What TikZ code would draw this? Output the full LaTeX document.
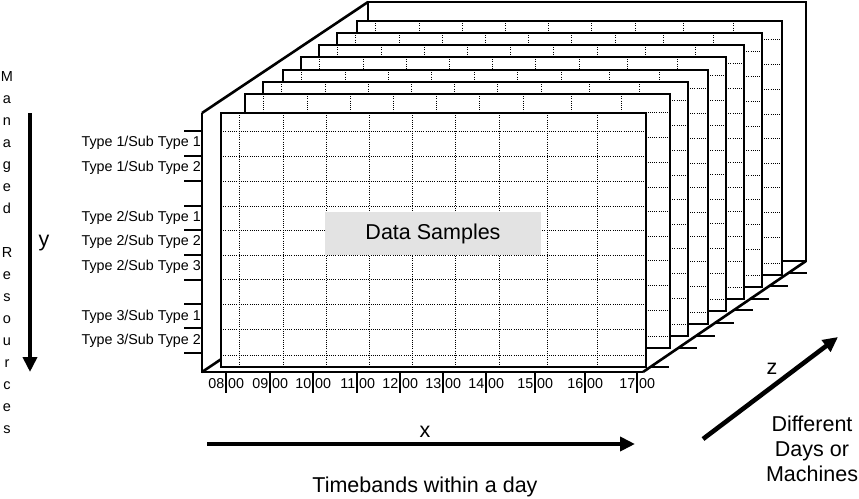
\documentclass[tikz,border=0pt]{standalone}
\usepackage{fontspec}
\setmainfont{Liberation Sans}
\usetikzlibrary{arrows.meta}

\begin{document}
\begin{tikzpicture}[x=1pt,y=-1pt,
		sheet/.style={line width=1.3pt},
		griddot/.style={line width=0.9pt,dash pattern=on 1pt off 1.2pt},
		frameline/.style={line width=2.6pt},
		ztick/.style={line width=1.8pt},
		axisarrow/.style={line width=4.6pt,-{Triangle[length=15pt,width=14pt]}},
		ticklbl/.style={inner sep=0pt,font=\fontsize{14.3}{16}\selectfont},
		biglbl/.style={inner sep=0pt,font=\fontsize{21.5}{25}\selectfont,align=center}]
					\definecolor{samplegrey}{HTML}{E3E3E3}
					\useasboundingbox (0,0) rectangle (859,498);
					\draw[frameline] (368,2) rectangle (806,261);
					\draw[frameline] (202,113) -- (368,2);
					\draw[frameline] (202,372) -- (368,261);
					\foreach \sx/\sy in {357/21,337/33,319/45,301/57,283/70,263/82,245/94,221/113} {
						\begin{scope}[shift={(\sx,\sy)}]
							\fill[white] (0,0) rectangle (425,254);
							\foreach \gx in {18,62,105,148,191,234,278,326,376}
								\draw[griddot] (\gx,0) -- (\gx,254);
							\foreach \gy in {18,43,68,93,117,142,166,191,216,242}
								\draw[griddot] (0,\gy) -- (425,\gy);
							\draw[sheet] (0,0) rectangle (425,254);
						\end{scope}
					}
					\draw[frameline] (202,113) -- (202,372) -- (643,372);
					\draw[frameline] (643,372) -- (806,261);
					\foreach \zb in {367,348,336,323,310,299,286,273}
						\draw[ztick] ({643+(372-\zb)*1.4685},\zb) -- ++(19,0);
					\foreach \yt in {131,156,181,206,230,255,280,304,328,353}
						\draw[line width=1.6pt] (184,\yt) -- (202,\yt);
					\foreach \xt/\hh in {226/08,270/09,313/10,357/11,400/12,443/13,486/14,535/15,585/16,637/17} {
						\draw[line width=2.4pt] (\xt,372) -- (\xt,393);
						\node[ticklbl,anchor=east] (h\hh) at (\xt-1.5,384) {\hh};
						\node[ticklbl,anchor=west] (m\hh) at (\xt+2,384) {00};
					}
					\node[ticklbl,anchor=east] (t11) at (201,143) {Type 1/Sub Type 1};
					\node[ticklbl,anchor=east] (t12) at (201,168) {Type 1/Sub Type 2};
					\node[ticklbl,anchor=east] (t21) at (201,218) {Type 2/Sub Type 1};
					\node[ticklbl,anchor=east] (t22) at (201,242) {Type 2/Sub Type 2};
					\node[ticklbl,anchor=east] (t23) at (201,267) {Type 2/Sub Type 3};
					\node[ticklbl,anchor=east] (t31) at (201,317) {Type 3/Sub Type 1};
					\node[ticklbl,anchor=east] (t32) at (201,341) {Type 3/Sub Type 2};
					\node[fill=samplegrey,minimum width=216pt,minimum height=43pt,font=\fontsize{21.5}{24}\selectfont] (samples) at (433,233.5) {Data Samples};
					\node[anchor=north,inner sep=0pt,align=center,font=\fontsize{14.5}{22}\selectfont] (managed) at (7,71) {M\\a\\n\\a\\g\\e\\d\\[22pt]R\\e\\s\\o\\u\\r\\c\\e\\s};
					\coordinate (ytop) at (30,113);
					\coordinate (ybot) at (30,372);
					\coordinate (xleft) at (207,444);
					\coordinate (xright) at (635,444);
					\coordinate (zlow) at (703,439);
					\coordinate (zhigh) at (838,337);
					\draw[axisarrow] (ytop) -- (ybot);
					\draw[axisarrow] (xleft) -- (xright);
					\draw[axisarrow] (zlow) -- (zhigh);
					\node[biglbl] (ylbl) at (44,243) {y};
					\node[biglbl] (xlbl) at (425,432) {x};
					\node[biglbl] (zlbl) at (772,369) {z};
					\node[biglbl] (timebands) at (425,487) {Timebands within a day};
					\node[biglbl] (days) at (812,449) {Different\\Days or\\Machines};
				\end{tikzpicture}
\end{document}
